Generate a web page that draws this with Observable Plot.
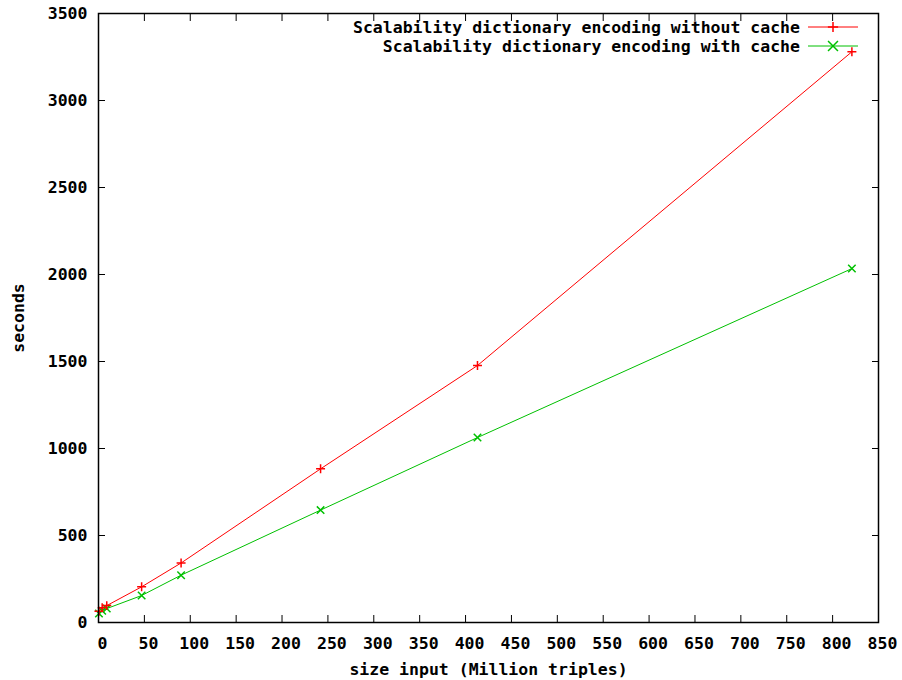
<!DOCTYPE html>
<html>
<head>
<meta charset="utf-8">
<script src="https://cdn.jsdelivr.net/npm/d3@7"></script>
<script src="https://cdn.jsdelivr.net/npm/@observablehq/plot@0.6"></script>
<style>
  html, body { margin: 0; padding: 0; background: #fff; }
  #chart svg { display: block; }
</style>
</head>
<body>
<div id="chart"></div>
<script>
// Input sizes (million triples) and encoding times (seconds)
const sizes = [0.5, 4, 9, 47, 90, 242, 413, 821];
const withoutCache = [65, 85, 97, 205, 342, 883, 1477, 3280];
const withCache = [52, 68, 80, 155, 272, 646, 1063, 2034];

const seriesNames = [
  "Scalability dictionary encoding without cache",
  "Scalability dictionary encoding with cache"
];
const seriesColors = ["#ff0000", "#00c000"];
const seriesSymbols = ["plus", "times"];

const xTicks = [0, 50, 100, 150, 200, 250, 300, 350, 400, 450, 500, 550, 600, 650, 700, 750, 800, 850];
const yTicks = [0, 500, 1000, 1500, 2000, 2500, 3000, 3500];
const xLabel = "size input (Million triples)";
const yLabel = "seconds";

const rows = [
  ...sizes.map((x, i) => ({series: seriesNames[0], x, y: withoutCache[i]})),
  ...sizes.map((x, i) => ({series: seriesNames[1], x, y: withCache[i]}))
];

const colorScale = {domain: seriesNames, range: seriesColors};
const symbolScale = {domain: seriesNames, range: seriesSymbols};

const fmt = d => String(d);
const blank = () => "";

const chart = Plot.plot({
  width: 902,
  height: 680,
  marginLeft: 98,
  marginRight: 24,
  marginTop: 13,
  marginBottom: 58,
  style: {
    fontFamily: "'DejaVu Sans Mono', 'Liberation Mono', monospace",
    fontWeight: "bold",
    fontSize: "16.5px",
    background: "#fff",
    color: "#000"
  },
  x: {domain: [0, 850]},
  y: {domain: [0, 3500]},
  color: colorScale,
  symbol: symbolScale,
  marks: [
    // inward tick marks on all four sides
    Plot.axisX({ticks: xTicks, tickSize: -7, tickFormat: blank, label: null}),
    Plot.axisX({anchor: "top", ticks: xTicks, tickSize: -7, tickFormat: blank, label: null}),
    Plot.axisY({ticks: yTicks, tickSize: -7, tickFormat: blank, label: null}),
    Plot.axisY({anchor: "right", ticks: yTicks, tickSize: -7, tickFormat: blank, label: null}),
    // tick labels and axis titles
    Plot.axisX({ticks: xTicks, tickSize: 0, tickPadding: 15, tickFormat: fmt, dx: 4, label: null}),
    Plot.axisX({ticks: [], label: xLabel, labelAnchor: "center", labelArrow: false, labelOffset: 52}),
    Plot.axisY({ticks: yTicks, tickSize: 0, tickPadding: 11, tickFormat: fmt,
      label: yLabel, labelAnchor: "center", labelArrow: false, labelOffset: 86}),
    Plot.line(rows, {x: "x", y: "y", z: "series", stroke: "series", strokeWidth: 1}),
    Plot.dot(rows, {x: "x", y: "y", stroke: "series", symbol: "series", r: d => d.series === seriesNames[0] ? 3.4 : 4.6, strokeWidth: 1.5}),
    Plot.frame({stroke: "#000", strokeWidth: 1.5})
  ]
});

// Key in the upper right corner: label, line sample and marker for each series
const svg = d3.select(chart);
const legend = svg.append("g").attr("class", "key");
const keyRight = 800, lineStart = 808, lineEnd = 858, rowTop = 27, rowStep = 19;
seriesNames.forEach((name, i) => {
  const y = rowTop + i * rowStep;
  legend.append("text")
    .attr("x", keyRight).attr("y", y).attr("dy", "0.35em")
    .attr("text-anchor", "end")
    .attr("fill", "#000")
    .text(name);
  legend.append("line")
    .attr("x1", lineStart).attr("x2", lineEnd).attr("y1", y).attr("y2", y)
    .attr("stroke", seriesColors[i]).attr("stroke-width", 1);
  const sym = i === 0 ? d3.symbolPlus : d3.symbolTimes;
  legend.append("path")
    .attr("transform", `translate(${(lineStart + lineEnd) / 2},${y})`)
    .attr("d", d3.symbol(sym, i === 0 ? 36 : 66)())
    .attr("fill", "none")
    .attr("stroke", seriesColors[i]).attr("stroke-width", 1.5);
});

document.getElementById("chart").append(chart);
</script>
</body>
</html>
